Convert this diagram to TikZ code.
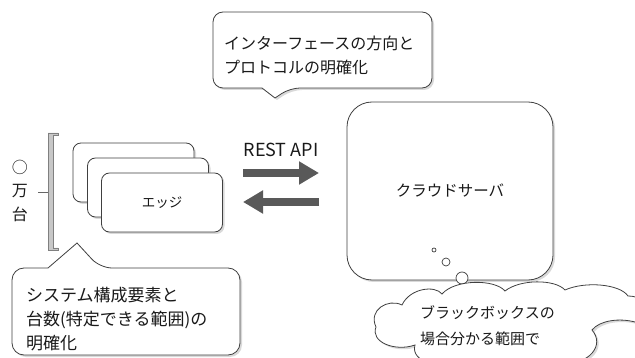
\documentclass[tikz,border=0pt]{standalone}
\usepackage{fontspec}
\setmainfont{Noto Sans CJK JP}
\usetikzlibrary{shadows,arrows.meta}
\begin{document}
\begin{tikzpicture}[x=1pt,y=-1pt,
  txt/.style={align=left, inner sep=0, anchor=north west, text=black!90},
  box/.style={draw=black!75, line width=0.8pt, fill=white, drop shadow={opacity=0.3, shadow xshift=2pt, shadow yshift=-2pt}},
  fat/.style={line width=8pt, draw=black!65, -{Triangle[width=22pt,length=20pt]}},
  bub/.style={circle, draw=black!75, line width=0.7pt, fill=white, inner sep=0}
]
\useasboundingbox (0,0) rectangle (635,358);
\clip (0,0) rectangle (635,358);

% top callout
\path[box] (275,98) -- (262,88) [rounded corners=10pt] -- (213,88) -- (213,12) -- (432,12) -- (432,88) -- (290,88) [sharp corners] -- cycle;
\node[txt, font=\fontsize{16}{24}\selectfont] (t1) at (224,36) {インターフェースの方向と\\プロトコルの明確化};

% cloud server
\node[box, rounded corners=25pt, minimum width=206pt, minimum height=178pt, font=\fontsize{15.5}{17}\selectfont, text=black!90] (srv) at (450,191) {クラウドサーバ};
\node[bub, minimum size=4pt] (b1) at (434,250) {};
\node[bub, minimum size=8pt] (b2) at (446,262) {};
\node[bub, minimum size=12pt] (b3) at (462,278) {};

% cloud
\path[box] (376,327)
  .. controls (368,310) and (388,298) .. (402,305)
  .. controls (410,288) and (435,285) .. (442,294)
  .. controls (455,279) and (495,279) .. (505,291)
  .. controls (520,279) and (555,279) .. (565,290)
  .. controls (585,281) and (620,284) .. (628,296)
  .. controls (650,296) and (650,318) .. (635,322)
  .. controls (620,318) and (600,320) .. (592,330)
  .. controls (605,345) and (590,365) .. (560,364)
  -- (470,368)
  .. controls (440,370) and (410,362) .. (415,345)
  .. controls (395,352) and (370,342) .. (376,327) -- cycle;
\node[txt, font=\fontsize{15}{26}\selectfont] (t3) at (420,305) {ブラックボックスの\\場合分かる範囲で};

% edges
\node[box, rounded corners=8pt, minimum width=121pt, minimum height=59pt] (e1) at (133.5,172.5) {};
\node[box, rounded corners=8pt, minimum width=121pt, minimum height=59pt] (e2) at (148,187.5) {};
\node[box, rounded corners=8pt, minimum width=121pt, minimum height=59pt, font=\fontsize{13.5}{15}\selectfont, text=black!90] (e3) at (162,202.5) {エッジ};

% arrows
\coordinate (a1) at (243,173);
\coordinate (a2) at (319,173);
\coordinate (a3) at (319,202);
\coordinate (a4) at (243,202);
\draw[fat] (a1) -- (a2);
\draw[fat] (a3) -- (a4);
\node[font=\fontsize{18}{20}\selectfont, text=black!90] (rest) at (281,150) {REST API};

% bracket
\draw[black!50, fill=black!22, line width=0.5pt] (58,133) -- (48,133) -- (48,250) -- (58,250) -- (58,248) -- (53,248) -- (53,135) -- (58,135) -- cycle;
\draw[black!60, line width=0.7pt] (38,192) -- (48,192);
\node[font=\fontsize{16}{17}\selectfont, text=black!90] (v1) at (20,167) {○};
\node[font=\fontsize{16}{17}\selectfont, text=black!90] (v2) at (20,191) {万};
\node[font=\fontsize{16}{17}\selectfont, text=black!90] (v3) at (20,214) {台};

% bottom-left callout
\path[box] (77,243) -- (48,268) [rounded corners=12pt] -- (12,268) -- (12,355) -- (240,355) -- (240,268) -- (100,268) [sharp corners] -- cycle;
\node[txt, font=\fontsize{17}{24}\selectfont] (t2) at (26,287) {システム構成要素と\\台数(特定できる範囲)の\\明確化};
\end{tikzpicture}
\end{document}
